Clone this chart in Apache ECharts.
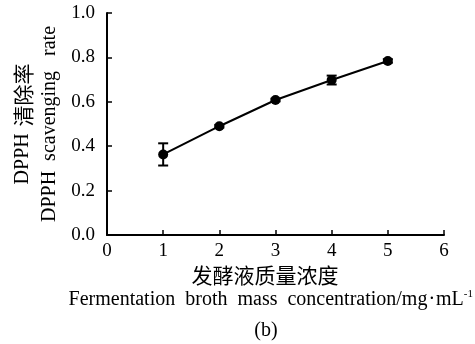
<!DOCTYPE html>
<html>
<head>
<meta charset="utf-8">
<script src="https://cdn.jsdelivr.net/npm/echarts@6/dist/echarts.min.js"></script>
<style>
html,body{margin:0;padding:0;background:#fff;}
#chart{width:475px;height:344px;}
</style>
</head>
<body>
<div id="chart"></div>
<script>
// Fermentation broth concentration (mg/mL) vs DPPH scavenging rate
const concentrations = [1, 2, 3, 4, 5];
const scavengingRate = [0.363, 0.490, 0.608, 0.698, 0.784];
const rateError = [0.050, 0.006, 0.006, 0.020, 0.008];
const yTicks = [0.0, 0.2, 0.4, 0.6, 0.8, 1.0];
const xTicks = [0, 1, 2, 3, 4, 5, 6];

const serif = '"Liberation Serif", "Times New Roman", serif';
const cjk = '"Noto Sans CJK SC", serif';

const points = concentrations.map((c, i) => [c, scavengingRate[i]]);
const errorData = concentrations.map((c, i) => [c, scavengingRate[i] - rateError[i], scavengingRate[i] + rateError[i]]);

const chart = echarts.init(document.getElementById('chart'));
chart.setOption({
  animation: false,
  grid: { left: 107, right: 31, top: 13, bottom: 109 },
  xAxis: {
    type: 'value', min: xTicks[0], max: xTicks[xTicks.length - 1], interval: 1,
    axisLine: { lineStyle: { color: '#000', width: 2 } },
    axisTick: { inside: true, length: 5, lineStyle: { color: '#000', width: 1.5 } },
    axisLabel: { color: '#000', fontFamily: serif, fontSize: 19, margin: 7 },
    splitLine: { show: false }
  },
  yAxis: {
    type: 'value', min: yTicks[0], max: yTicks[yTicks.length - 1], interval: 0.2,
    axisLine: { show: true, lineStyle: { color: '#000', width: 2 } },
    axisTick: { show: true, inside: true, length: 5, lineStyle: { color: '#000', width: 1.5 } },
    axisLabel: { color: '#000', fontFamily: serif, fontSize: 19, margin: 12,
      formatter: v => v.toFixed(1) },
    splitLine: { show: false }
  },
  series: [
    {
      type: 'custom',
      data: errorData,
      z: 3,
      renderItem: function (params, api) {
        const x = api.value(0);
        const lo = api.coord([x, api.value(1)]);
        const hi = api.coord([x, api.value(2)]);
        const w = 5;
        const style = { stroke: '#000', lineWidth: 2 };
        return {
          type: 'group',
          children: [
            { type: 'line', shape: { x1: lo[0], y1: lo[1], x2: hi[0], y2: hi[1] }, style },
            { type: 'line', shape: { x1: lo[0] - w, y1: lo[1], x2: lo[0] + w, y2: lo[1] }, style },
            { type: 'line', shape: { x1: hi[0] - w, y1: hi[1], x2: hi[0] + w, y2: hi[1] }, style }
          ]
        };
      }
    },
    {
      type: 'line',
      data: points,
      z: 4,
      symbol: 'circle',
      symbolSize: 10,
      itemStyle: { color: '#000' },
      lineStyle: { color: '#000', width: 2 }
    }
  ],
  graphic: [
    {
      type: 'text', rotation: Math.PI / 2,
      x: 23, y: 124,
      style: {
        text: '{a|DPPH}  {c|清除率}',
        rich: {
          a: { fontFamily: serif, fontSize: 20, fill: '#000' },
          c: { fontFamily: cjk, fontSize: 21, fill: '#000' }
        },
        align: 'center', verticalAlign: 'middle'
      }
    },
    {
      type: 'text', rotation: Math.PI / 2,
      x: 50, y: 124,
      style: {
        text: 'DPPH  scavenging   rate',
        fill: '#000', font: '20px ' + serif,
        align: 'center', verticalAlign: 'middle'
      }
    },
    {
      type: 'text', x: 265, y: 275,
      style: { text: '发酵液质量浓度', fill: '#000', font: '21px ' + cjk, align: 'center', verticalAlign: 'middle' }
    },
    {
      type: 'text', x: 473, y: 300,
      style: {
        text: '{m|Fermentation  broth  mass  concentration/mg}{d|·}{m|mL}{s|-1}',
        rich: {
          m: { fontFamily: serif, fontSize: 20, fill: '#000' },
          d: { fontFamily: serif, fontSize: 20, fill: '#000', padding: [0, 1, 0, 1] },
          s: { fontFamily: serif, fontSize: 11, fill: '#000', verticalAlign: 'top', padding: [0, 0, 12, 0] }
        },
        align: 'right', verticalAlign: 'middle'
      }
    },
    {
      type: 'text', x: 266, y: 331,
      style: { text: '(b)', fill: '#000', font: '20px ' + serif, align: 'center', verticalAlign: 'middle' }
    }
  ]
});
</script>
</body>
</html>
